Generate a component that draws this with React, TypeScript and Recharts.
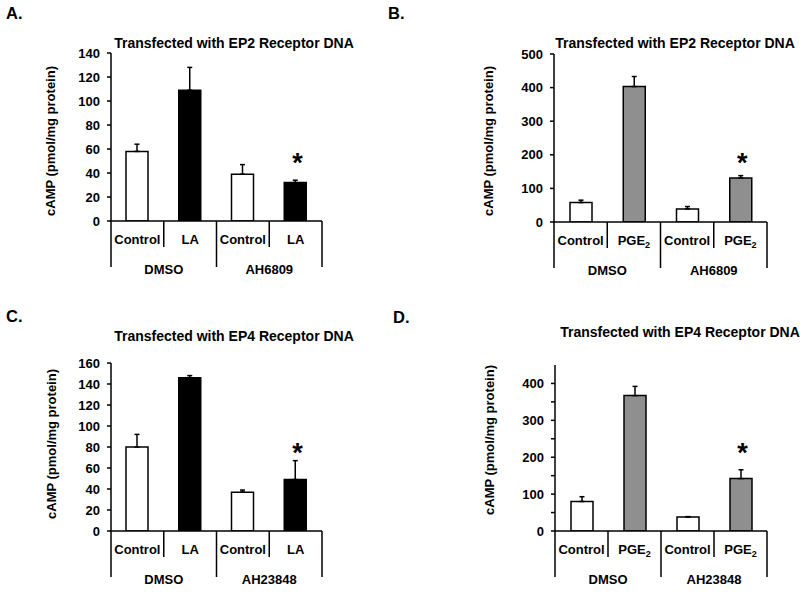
import React from 'react';
import { ComposedChart, Bar, XAxis, YAxis, ErrorBar, Scatter, Cell } from 'recharts';

// ---------- data ----------
const groupsEP2 = ['DMSO', 'AH6809'];
const groupsEP4 = ['DMSO', 'AH23848'];
const treatmentsLA = ['Control', 'LA', 'Control', 'LA'];
const treatmentsPGE = ['Control', 'PGE2', 'Control', 'PGE2'];

const valuesA = [58, 109, 39, 32];
const errorsA = [6, 19, 8, 2];
const starsA = [null, null, null, 53];

const valuesB = [58, 403, 39, 131];
const errorsB = [7, 30, 7, 7];
const starsB = [null, null, null, 193];

const valuesC = [80, 146, 37, 49];
const errorsC = [12, 2, 2, 18];
const starsC = [null, null, null, 80];

const valuesD = [80, 367, 38, 142];
const errorsD = [13, 25, 1, 24];
const starsD = [null, null, null, 227];

const ticksA = [0, 20, 40, 60, 80, 100, 120, 140];
const ticksB = [0, 100, 200, 300, 400, 500];
const ticksC = [0, 20, 40, 60, 80, 100, 120, 140, 160];
const ticksD = [0, 50, 100, 150, 200, 250, 300, 350, 400];
const labelsD = [0, 100, 200, 300, 400];

const titleEP2 = 'Transfected with EP2 Receptor DNA';
const titleEP4 = 'Transfected with EP4 Receptor DNA';
const yTitle = 'cAMP (pmol/mg protein)';

// ---------- styles ----------
const FONT = '"Liberation Sans", Arial, Helvetica, sans-serif';
const FILL: Record<string, string> = { Control: '#ffffff', LA: '#000000', PGE2: '#8f8f8f' };
const XH = 56;

type Row = { id: string; treatment: string; group: string; value: number; err: number[]; star: number | null };

function buildRows(groups: string[], treatments: string[], values: number[], errors: number[], stars: (number | null)[]): Row[] {
  return values.map((v, i) => ({
    id: `${groups[i < 2 ? 0 : 1]}-${treatments[i]}-${i}`,
    treatment: treatments[i],
    group: groups[i < 2 ? 0 : 1],
    value: v,
    err: [0, errors[i]],
    star: stars[i],
  }));
}

const rowsA = buildRows(groupsEP2, treatmentsLA, valuesA, errorsA, starsA);
const rowsB = buildRows(groupsEP2, treatmentsPGE, valuesB, errorsB, starsB);
const rowsC = buildRows(groupsEP4, treatmentsLA, valuesC, errorsC, starsC);
const rowsD = buildRows(groupsEP4, treatmentsPGE, valuesD, errorsD, starsD);

type Box = { left: number; top: number; width: number; height: number };
type Plot = { left: number; top: number; right: number; bottom: number };

function renderCatTick(p: any, rows: Row[], band: number) {
  const { x, y, index } = p;
  const row = rows[index];
  if (!row) return <g />;
  const groupStart = index % 2 === 0;
  const lineW = 1.5;
  return (
    <g>
      <line x1={x - band / 2} y1={y} x2={x - band / 2} y2={y + (groupStart ? 46 : 26)} stroke="#000" strokeWidth={lineW} />
      {index === rows.length - 1 && (
        <line x1={x + band / 2} y1={y} x2={x + band / 2} y2={y + 46} stroke="#000" strokeWidth={lineW} />
      )}
      <text x={x} y={y + 23} textAnchor="middle" fontFamily={FONT} fontWeight={700} fontSize={13} fill="#000">
        {row.treatment === 'PGE2' ? (
          <>
            PGE<tspan fontSize={9} dy={3}>2</tspan>
          </>
        ) : (
          row.treatment
        )}
      </text>
      {!groupStart && (
        <text x={x - band / 2} y={y + 53} textAnchor="middle" fontFamily={FONT} fontWeight={700} fontSize={13} fill="#000">
          {row.group}
        </text>
      )}
    </g>
  );
}

function StarShape(props: any) {
  const { cx, cy, payload } = props;
  if (!payload || payload.star == null || !Number.isFinite(cy)) return <g />;
  return (
    <text x={cx + 2} y={cy + 15} textAnchor="middle" fontFamily={FONT} fontWeight={700} fontSize={27} fill="#000">
      *
    </text>
  );
}

function Panel({ rows, box, plot, domain, ticks, labels }: { rows: Row[]; box: Box; plot: Plot; domain: number[]; ticks: number[]; labels?: number[] }) {
  const band = (plot.right - plot.left) / rows.length;
  return (
    <div style={{ position: 'absolute', left: box.left, top: box.top, width: box.width, height: box.height }}>
      <ComposedChart
        width={box.width}
        height={box.height}
        data={rows}
        margin={{
          top: plot.top - box.top,
          left: 0,
          right: box.left + box.width - plot.right,
          bottom: box.top + box.height - plot.bottom - XH,
        }}
      >
        <XAxis
          dataKey="id"
          type="category"
          height={XH}
          interval={0}
          tickSize={0}
          tickMargin={0}
          tickLine={false}
          axisLine={{ stroke: '#000', strokeWidth: 1.5 }}
          tick={(p: any) => renderCatTick(p, rows, band)}
        />
        <YAxis
          type="number"
          width={plot.left - box.left}
          domain={domain}
          ticks={ticks}
          interval={0}
          allowDataOverflow
          tickSize={4}
          tickMargin={7}
          axisLine={{ stroke: '#000', strokeWidth: 1.5 }}
          tickLine={{ stroke: '#000', strokeWidth: 1.5 }}
          tick={{ fontSize: 13, fontWeight: 700, fill: '#000', fontFamily: FONT }}
          tickFormatter={(v: number) => (!labels || labels.includes(v) ? String(v) : '')}
        />
        <Bar dataKey="value" barSize={22} stroke="#000" strokeWidth={1.5} isAnimationActive={false}>
          {rows.map((r) => (
            <Cell key={r.id} fill={FILL[r.treatment]} />
          ))}
          <ErrorBar dataKey="err" direction="y" width={2.5} stroke="#000" strokeWidth={1.5} />
        </Bar>
        <Scatter dataKey="star" isAnimationActive={false} shape={StarShape} />
      </ComposedChart>
    </div>
  );
}

const textStyle = { fontFamily: FONT, fontWeight: 700, fill: '#000' } as const;

export default function App() {
  return (
    <div style={{ position: 'fixed', left: 0, top: 0, width: 800, height: 593, background: '#fff', overflow: 'hidden' }}>
      <Panel rows={rowsA} box={{ left: 0, top: 0, width: 400, height: 296 }} plot={{ left: 111, top: 53, right: 322, bottom: 221 }} domain={[0, 140]} ticks={ticksA} />
      <Panel rows={rowsB} box={{ left: 400, top: 0, width: 400, height: 296 }} plot={{ left: 554, top: 54, right: 767, bottom: 222 }} domain={[0, 500]} ticks={ticksB} />
      <Panel rows={rowsC} box={{ left: 0, top: 296, width: 400, height: 297 }} plot={{ left: 111, top: 363, right: 322, bottom: 531 }} domain={[0, 160]} ticks={ticksC} />
      <Panel rows={rowsD} box={{ left: 400, top: 296, width: 400, height: 297 }} plot={{ left: 555, top: 365, right: 767, bottom: 531 }} domain={[0, 450]} ticks={ticksD} labels={labelsD} />
      <svg width={800} height={593} style={{ position: 'absolute', left: 0, top: 0, pointerEvents: 'none' }}>
        <text x={6} y={19} fontSize={16.5} {...textStyle}>A.</text>
        <text x={388} y={19} fontSize={16.5} {...textStyle}>B.</text>
        <text x={6} y={322} fontSize={16.5} {...textStyle}>C.</text>
        <text x={393} y={323} fontSize={16.5} {...textStyle}>D.</text>
        <text x={234} y={48} fontSize={14} textAnchor="middle" {...textStyle}>{titleEP2}</text>
        <text x={675} y={48} fontSize={14} textAnchor="middle" {...textStyle}>{titleEP2}</text>
        <text x={234} y={341} fontSize={14} textAnchor="middle" {...textStyle}>{titleEP4}</text>
        <text x={680} y={337} fontSize={14} textAnchor="middle" {...textStyle}>{titleEP4}</text>
        <text transform="translate(50,141) rotate(-90)" fontSize={13} textAnchor="middle" dominantBaseline="central" {...textStyle}>{yTitle}</text>
        <text transform="translate(488,141) rotate(-90)" fontSize={13} textAnchor="middle" dominantBaseline="central" {...textStyle}>{yTitle}</text>
        <text transform="translate(51,444) rotate(-90)" fontSize={13} textAnchor="middle" dominantBaseline="central" {...textStyle}>{yTitle}</text>
        <text transform="translate(489,440) rotate(-90)" fontSize={13} textAnchor="middle" dominantBaseline="central" {...textStyle}>{yTitle}</text>
      </svg>
    </div>
  );
}
